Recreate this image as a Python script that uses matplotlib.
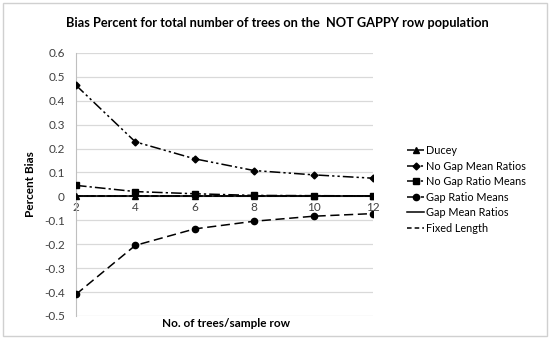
import matplotlib
matplotlib.use("Agg")
import matplotlib.pyplot as plt
from matplotlib.patches import Rectangle

plt.rcParams['font.family'] = ['Lato', 'DejaVu Sans']

trees = [2, 4, 6, 8, 10, 12]
ducey = [0.0, 0.0, 0.0, 0.0, 0.0, 0.0]
no_gap_mean_ratios = [0.465, 0.228, 0.157, 0.108, 0.090, 0.076]
no_gap_ratio_means = [0.046, 0.020, 0.011, 0.004, 0.003, 0.002]
gap_ratio_means = [-0.41, -0.205, -0.136, -0.104, -0.083, -0.072]
gap_mean_ratios = [0.0, 0.0, 0.0, 0.0, 0.0, 0.0]
fixed_length = [0.0, 0.0, 0.0, 0.0, 0.0, 0.0]
yticks = [0.6, 0.5, 0.4, 0.3, 0.2, 0.1, 0, -0.1, -0.2, -0.3, -0.4, -0.5]
ytick_labels = ['0.6', '0.5', '0.4', '0.3', '0.2', '0.1', '0', '-0.1', '-0.2', '-0.3', '-0.4', '-0.5']

fig = plt.figure(figsize=(5.5, 3.39), dpi=100)
fig.patches.append(Rectangle((0.006, 0.009), 0.988, 0.982, transform=fig.transFigure,
                             fill=False, edgecolor='#d0d0d0', linewidth=1.0))
ax = fig.add_axes([0.138, 0.068, 0.540, 0.776])

lw = 1.1
ax.plot(trees, ducey, color='black', lw=lw, ls=(0, (5, 2)), marker='^', ms=4, label='Ducey', zorder=5)
ax.plot(trees, no_gap_mean_ratios, color='black', lw=lw, ls=(0, (7, 2, 1.5, 2, 1.5, 2)), marker='D', ms=3.5, label='No Gap Mean Ratios', zorder=5)
ax.plot(trees, no_gap_ratio_means, color='black', lw=lw, ls=(0, (7, 2, 1.5, 2)), marker='s', ms=4, label='No Gap Ratio Means', zorder=5)
ax.plot(trees, gap_ratio_means, color='black', lw=lw, ls=(0, (6, 3)), marker='o', ms=4.5, label='Gap Ratio Means', zorder=5)
ax.plot(trees, gap_mean_ratios, color='black', lw=lw, ls='-', label='Gap Mean Ratios', zorder=4)
ax.plot(trees, fixed_length, color='black', lw=lw, ls=(0, (3, 2)), label='Fixed Length', zorder=4)

ax.set_xlim(2, 12)
ax.set_ylim(-0.5, 0.6)
ax.set_yticks(yticks)
ax.set_yticklabels(ytick_labels)
ax.set_xticks(trees)
ax.grid(axis='y', color='#d9d9d9', lw=0.9)
ax.set_axisbelow(True)
for s in ['top', 'right']:
    ax.spines[s].set_visible(False)
ax.spines['left'].set_color('#bfbfbf')
ax.spines['bottom'].set_position(('data', 0))
ax.spines['bottom'].set_color('#bfbfbf')
ax.tick_params(axis='both', length=0, labelsize=8.5, colors='#404040')
ax.tick_params(axis='x', pad=4)
ax.tick_params(axis='y', pad=8)

ax.set_ylabel('Percent Bias', fontsize=8.5, fontweight='bold', labelpad=6)
fig.text(0.41, 0.045, 'No. of trees/sample row', fontsize=8.5, fontweight='bold', ha='center', va='center')
fig.text(0.505, 0.932, 'Bias Percent for total number of trees on the  NOT GAPPY row population',
         fontsize=9.2, fontweight='bold', ha='center', va='center')

leg = ax.legend(loc='upper left', bbox_to_anchor=(0.732, 0.585), bbox_transform=fig.transFigure,
                frameon=False, fontsize=7.8, handlelength=1.6, handletextpad=0.2, labelspacing=0.42,
                borderaxespad=0)

fig.savefig('out.png', dpi=100)
